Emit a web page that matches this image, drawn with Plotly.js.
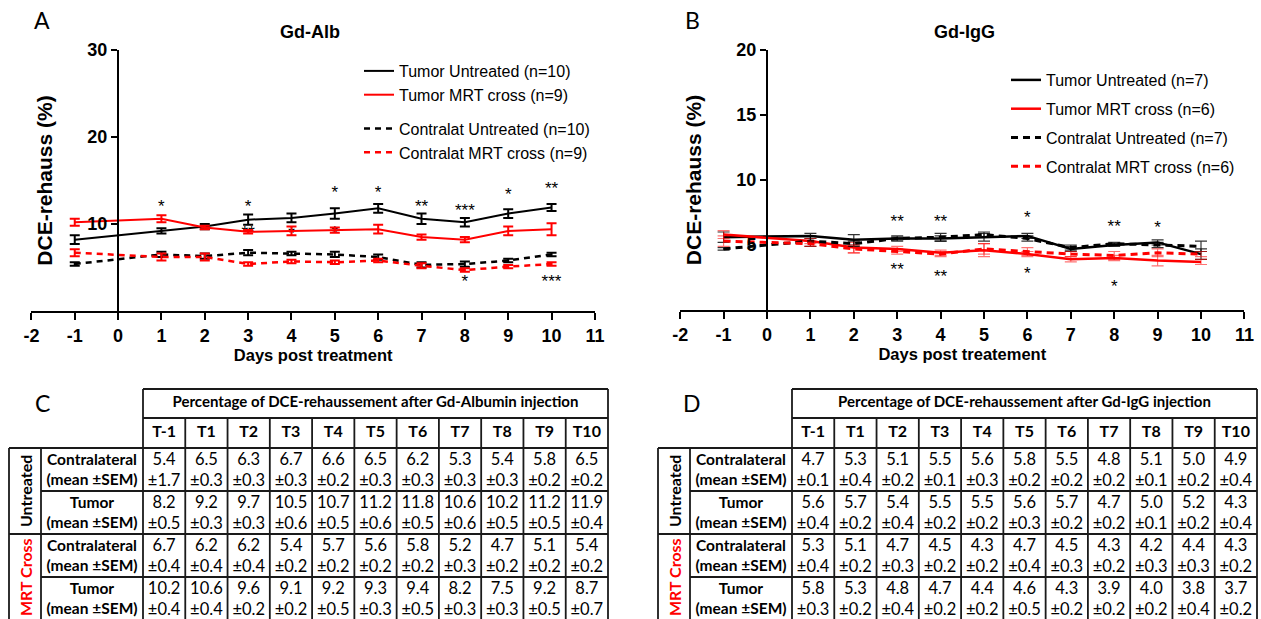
<!DOCTYPE html>
<html><head><meta charset="utf-8">
<script src="https://cdn.plot.ly/plotly-3.0.1.min.js"></script>
<style>html,body{margin:0;padding:0;background:#fff}#chart{width:1261px;height:619px}</style>
</head><body><div id="chart"></div>
<script>
// ---------------- DATA ----------------
const days = [-1, 1, 2, 3, 4, 5, 6, 7, 8, 9, 10];
const timeLabels = ['T-1', 'T1', 'T2', 'T3', 'T4', 'T5', 'T6', 'T7', 'T8', 'T9', 'T10'];
const xTickVals = [-2, -1, 0, 1, 2, 3, 4, 5, 6, 7, 8, 9, 10, 11];
const xTickText = ['-2', '-1', '0', '1', '2', '3', '4', '5', '6', '7', '8', '9', '10', '11'];
const albYTicks = [10, 20, 30];
const iggYTicks = [5, 10, 15, 20];

// Table C (Gd-Albumin), mean and SEM
const albContraUntMean = [5.4, 6.5, 6.3, 6.7, 6.6, 6.5, 6.2, 5.3, 5.4, 5.8, 6.5];
const albContraUntSem  = [1.7, 0.3, 0.3, 0.3, 0.2, 0.3, 0.3, 0.3, 0.3, 0.2, 0.2];
const albTumorUntMean  = [8.2, 9.2, 9.7, 10.5, 10.7, 11.2, 11.8, 10.6, 10.2, 11.2, 11.9];
const albTumorUntSem   = [0.5, 0.3, 0.3, 0.6, 0.5, 0.6, 0.5, 0.6, 0.5, 0.5, 0.4];
const albContraMrtMean = [6.7, 6.2, 6.2, 5.4, 5.7, 5.6, 5.8, 5.2, 4.7, 5.1, 5.4];
const albContraMrtSem  = [0.4, 0.4, 0.4, 0.2, 0.2, 0.2, 0.2, 0.3, 0.2, 0.2, 0.2];
const albTumorMrtMean  = [10.2, 10.6, 9.6, 9.1, 9.2, 9.3, 9.4, 8.2, 7.5, 9.2, 8.7];
const albTumorMrtSem   = [0.4, 0.4, 0.2, 0.2, 0.5, 0.3, 0.5, 0.3, 0.3, 0.5, 0.7];

// Panel A values as drawn where the curve differs from the table
const albTumorMrtPlotted     = [10.2, 10.6, 9.6, 9.1, 9.2, 9.3, 9.4, 8.5, 8.2, 9.2, 9.4];
const albContraUntSemPlotted = [0.2, 0.3, 0.3, 0.3, 0.2, 0.3, 0.3, 0.3, 0.3, 0.2, 0.2];

// Table D (Gd-IgG), mean and SEM
const iggContraUntMean = [4.7, 5.3, 5.1, 5.5, 5.6, 5.8, 5.5, 4.8, 5.1, 5.0, 4.9];
const iggContraUntSem  = [0.1, 0.4, 0.2, 0.1, 0.3, 0.2, 0.2, 0.2, 0.1, 0.2, 0.4];
const iggTumorUntMean  = [5.6, 5.7, 5.4, 5.5, 5.5, 5.6, 5.7, 4.7, 5.0, 5.2, 4.3];
const iggTumorUntSem   = [0.4, 0.2, 0.4, 0.2, 0.2, 0.3, 0.2, 0.2, 0.1, 0.2, 0.4];
const iggContraMrtMean = [5.3, 5.1, 4.7, 4.5, 4.3, 4.7, 4.5, 4.3, 4.2, 4.4, 4.3];
const iggContraMrtSem  = [0.4, 0.2, 0.3, 0.2, 0.2, 0.4, 0.3, 0.2, 0.3, 0.3, 0.2];
const iggTumorMrtMean  = [5.8, 5.3, 4.8, 4.7, 4.4, 4.6, 4.3, 3.9, 4.0, 3.8, 3.7];
const iggTumorMrtSem   = [0.3, 0.2, 0.4, 0.2, 0.2, 0.5, 0.2, 0.2, 0.2, 0.4, 0.2];

// Significance marks (day, label, level)
const albSigTopX = [1, 3, 5, 6, 7, 8, 9, 10];
const albSigTopT = ['*', '*', '*', '*', '**', '***', '*', '**'];
const albSigTopY = [12.4, 12.4, 14.0, 14.1, 12.5, 12.0, 13.8, 14.5];
const albSigMidX = [3, 4, 5];
const albSigMidT = ['**', '*', '*'];
const albSigMidY = [9.4, 9.3, 9.4];
const albSigLowX = [8, 10];
const albSigLowT = ['*', '***'];
const albSigLowY = [3.8, 3.8];
const iggSigTopX = [3, 4, 6, 8, 9];
const iggSigTopT = ['**', '**', '*', '**', '*'];
const iggSigTopY = [7.1, 7.1, 7.4, 6.7, 6.6];
const iggSigLowX = [3, 4, 6, 8];
const iggSigLowT = ['**', '**', '*', '*'];
const iggSigLowY = [3.4, 2.9, 3.1, 2.1];

const rowLabels = ['Contralateral<br>(mean ±SEM)', 'Tumor<br>(mean ±SEM)', 'Contralateral<br>(mean ±SEM)', 'Tumor<br>(mean ±SEM)'];
const groupLabels = ['Untreated', 'MRT Cross'];

// ---------------- LAYOUT HELPERS ----------------
const W = 1261, H = 619;
const FONT = 'Liberation Sans, Arial, sans-serif';
const TFONT = 'Lato, Carlito, sans-serif';
const RED = '#ff0000';
const px = p => p / W;
const py = p => 1 - p / H;
const GLYPH_SHIFT_PX = 5; // asterisk glyph sits above its text anchor

const traces = [];
const shapes = [];
const annotations = [];

function sigTrace(xa, ya, x, y, t, unitPx) {
  traces.push({type: 'scatter', mode: 'text', xaxis: xa, yaxis: ya, x: x,
    y: y.map(v => v - GLYPH_SHIFT_PX / unitPx), text: t,
    textposition: 'middle center', textfont: {family: FONT, size: 17, color: '#000'},
    hoverinfo: 'skip', showlegend: false, cliponaxis: false});
}
const A_UNIT = 261 / 30, B_UNIT = 260 / 20;
sigTrace('x', 'y', albSigTopX, albSigTopY, albSigTopT, A_UNIT);
sigTrace('x', 'y', albSigMidX, albSigMidY, albSigMidT, A_UNIT);
sigTrace('x', 'y', albSigLowX, albSigLowY, albSigLowT, A_UNIT);
sigTrace('x2', 'y2', iggSigTopX, iggSigTopY, iggSigTopT, B_UNIT);
sigTrace('x2', 'y2', iggSigLowX, iggSigLowY, iggSigLowT, B_UNIT);

function series(xa, ya, legend, group, name, y, err, color, dash, lw, errColor, errThick, errW) {
  traces.push({type: 'scatter', mode: 'lines', xaxis: xa, yaxis: ya, legend: legend,
    legendgroup: group, name: name, x: days, y: y,
    line: {color: color, width: lw, dash: dash},
    error_y: {type: 'data', array: err, visible: true, color: errColor, thickness: errThick, width: errW},
    hoverinfo: 'skip', cliponaxis: false});
}
// Panel A
series('x', 'y', 'legend', 'solid', 'Tumor Untreated (n=10)', albTumorUntMean, albTumorUntSem, '#000', 'solid', 2, '#000', 2, 5);
series('x', 'y', 'legend', 'solid', 'Tumor MRT cross (n=9)', albTumorMrtPlotted, albTumorMrtSem, RED, 'solid', 2, RED, 2, 5);
series('x', 'y', 'legend', 'dashed', 'Contralat Untreated (n=10)', albContraUntMean, albContraUntSemPlotted, '#000', '6px,5px', 2.5, '#000', 2, 5);
series('x', 'y', 'legend', 'dashed', 'Contralat MRT cross (n=9)', albContraMrtMean, albContraMrtSem, RED, '6px,5px', 2.5, RED, 2, 5);
// Panel B
series('x2', 'y2', 'legend2', 'b1', 'Tumor Untreated (n=7)', iggTumorUntMean, iggTumorUntSem, '#000', 'solid', 2.5, 'rgba(0,0,0,0.8)', 1.2, 6);
series('x2', 'y2', 'legend2', 'b2', 'Tumor MRT cross (n=6)', iggTumorMrtMean, iggTumorMrtSem, RED, 'solid', 2.5, 'rgba(255,0,0,0.55)', 1.2, 6);
series('x2', 'y2', 'legend2', 'b3', 'Contralat Untreated (n=7)', iggContraUntMean, iggContraUntSem, '#000', '7px,5px', 3, 'rgba(0,0,0,0.8)', 1.2, 6);
series('x2', 'y2', 'legend2', 'b4', 'Contralat MRT cross (n=6)', iggContraMrtMean, iggContraMrtSem, RED, '7px,5px', 3, 'rgba(255,0,0,0.55)', 1.2, 6);

// ---------------- TABLES ----------------
const COLW = 465 / 11, ROWH = 43;
const GL = -0.5 - (102 + 32) / COLW;   // left of group column
const RL = -0.5 - 102 / COLW;          // left of row-label column
const Y_TOP = -0.5 - 59 / ROWH;        // top of title row
const Y_HDR = -0.5 - 30 / ROWH;        // top of T-row
const Y_END = 3.6;

function table(xa, ya, dataLeftPx, title, rows) {
  const xu0 = -3.8, xu1 = 10.55;
  const pxAt = u => dataLeftPx + (u + 0.5) * COLW;
  const yTopU = -1.95, yBotU = (619 - 448) / ROWH - 0.5;
  const xName = 'xaxis' + xa.slice(1), yName = 'yaxis' + ya.slice(1);
  const ax = {};
  ax[xName] = {domain: [px(pxAt(xu0)), px(pxAt(xu1))], range: [xu0, xu1], visible: false, fixedrange: true, anchor: ya};
  ax[yName] = {domain: [0, py(448 + (yTopU + 0.5) * ROWH)], range: [yBotU, yTopU], visible: false, fixedrange: true, anchor: xa};
  const L = (x0, y0, x1, y1) => shapes.push({type: 'line', xref: xa, yref: ya, x0: x0, y0: y0, x1: x1, y1: y1, line: {color: '#1a1a1a', width: 1.8}});
  L(-0.5, Y_TOP, 10.5, Y_TOP);
  L(-0.5, Y_HDR, 10.5, Y_HDR);
  L(GL, -0.5, 10.5, -0.5);
  L(RL, 0.5, 10.5, 0.5);
  L(GL, 1.5, 10.5, 1.5);
  L(RL, 2.5, 10.5, 2.5);
  L(GL, -0.5, GL, Y_END);
  L(RL, -0.5, RL, Y_END);
  L(-0.5, Y_TOP, -0.5, Y_END);
  L(10.5, Y_TOP, 10.5, Y_END);
  for (let k = 1; k < timeLabels.length; k++) L(k - 0.5, Y_HDR, k - 0.5, Y_END);
  const idx = timeLabels.map((_, i) => i);
  const cellShift = 2 / ROWH; // two-line blocks sit slightly low in each row
  traces.push({type: 'scatter', mode: 'text', xaxis: xa, yaxis: ya, x: [5], y: [(Y_TOP + Y_HDR) / 2], text: [title],
    textfont: {family: TFONT, size: 15, color: '#000', weight: 700}, hoverinfo: 'skip', showlegend: false, cliponaxis: false});
  traces.push({type: 'scatter', mode: 'text', xaxis: xa, yaxis: ya, x: idx, y: idx.map(() => (Y_HDR - 0.5) / 2), text: timeLabels,
    textfont: {family: TFONT, size: 16, color: '#000', weight: 700}, hoverinfo: 'skip', showlegend: false, cliponaxis: false});
  traces.push({type: 'scatter', mode: 'text', xaxis: xa, yaxis: ya, x: rowLabels.map(() => (RL - 0.5) / 2), y: rowLabels.map((_, r) => r + cellShift), text: rowLabels,
    textfont: {family: TFONT, size: 15.5, color: '#000', weight: 700}, hoverinfo: 'skip', showlegend: false, cliponaxis: false});
  rows.forEach((row, r) => {
    traces.push({type: 'scatter', mode: 'text', xaxis: xa, yaxis: ya, x: idx, y: idx.map(() => r + cellShift),
      text: row[0].map((m, i) => m.toFixed(1) + '<br>±' + row[1][i].toFixed(1)),
      textfont: {family: TFONT, size: 16.5, color: '#000'}, hoverinfo: 'skip', showlegend: false, cliponaxis: false});
  });
  annotations.push({xref: xa, yref: ya, x: (GL + RL) / 2, y: 0.5, text: groupLabels[0], textangle: -90, showarrow: false,
    xanchor: 'center', yanchor: 'middle', font: {family: TFONT, size: 16, color: '#000', weight: 700}});
  annotations.push({xref: xa, yref: ya, x: (GL + RL) / 2, y: 2.5, text: groupLabels[1], textangle: -90, showarrow: false,
    xanchor: 'center', yanchor: 'middle', font: {family: TFONT, size: 16, color: RED, weight: 700}});
  return ax;
}
const axC = table('x3', 'y3', 143, 'Percentage of DCE-rehaussement after Gd-Albumin injection',
  [[albContraUntMean, albContraUntSem], [albTumorUntMean, albTumorUntSem], [albContraMrtMean, albContraMrtSem], [albTumorMrtMean, albTumorMrtSem]]);
const axD = table('x4', 'y4', 792, 'Percentage of DCE-rehaussement after Gd-IgG injection',
  [[iggContraUntMean, iggContraUntSem], [iggTumorUntMean, iggTumorUntSem], [iggContraMrtMean, iggContraMrtSem], [iggTumorMrtMean, iggTumorMrtSem]]);

// ---------------- CHART AXES ----------------
function xAxis(x0px, x1px, anchor, title) {
  return {domain: [px(x0px), px(x1px)], range: [-2, 11], anchor: anchor, tickvals: xTickVals, ticktext: xTickText,
    ticks: 'outside', ticklen: 7, tickwidth: 2, tickcolor: '#000', showline: true, linewidth: 2, linecolor: '#000',
    showgrid: false, zeroline: false, fixedrange: true,
    tickfont: {family: FONT, size: 18, color: '#000', weight: 700},
    title: {text: title, font: {family: FONT, size: 16.5, color: '#000', weight: 700}, standoff: 3}};
}
function yAxis(bottomPx, topPx, range, ticks, posPx) {
  return {domain: [py(bottomPx), py(topPx)], range: range, anchor: 'free', position: px(posPx),
    tickvals: ticks, ticks: 'outside', ticklen: 6, tickwidth: 2, tickcolor: '#000', showline: true, linewidth: 2, linecolor: '#000',
    showgrid: false, zeroline: false, fixedrange: true,
    tickfont: {family: FONT, size: 18, color: '#000', weight: 700},
    title: {text: 'DCE-rehauss (%)', font: {family: FONT, size: 21, color: '#000', weight: 700}, standoff: 28}};
}

const paperNote = (x, y, text, font) => annotations.push({xref: 'paper', yref: 'paper', x: px(x), y: py(y), text: text,
  showarrow: false, xanchor: 'center', yanchor: 'middle', font: font});
paperNote(42, 20, 'A', {family: TFONT, size: 23, color: '#000'});
paperNote(692, 20, 'B', {family: TFONT, size: 23, color: '#000'});
paperNote(43, 403, 'C', {family: TFONT, size: 23, color: '#000'});
paperNote(692, 403, 'D', {family: TFONT, size: 23, color: '#000'});
paperNote(310, 32, 'Gd-Alb', {family: FONT, size: 18, color: '#000', weight: 700});
paperNote(965, 32, 'Gd-IgG', {family: FONT, size: 18, color: '#000', weight: 700});

const layout = Object.assign({
  width: W, height: H, margin: {l: 0, r: 0, t: 0, b: 0},
  paper_bgcolor: '#fff', plot_bgcolor: 'rgba(0,0,0,0)',
  font: {family: FONT, color: '#000'},
  xaxis: xAxis(31.4, 594.9, 'y', 'Days post treatment'),
  yaxis: yAxis(311, 50, [0, 30], albYTicks, 118),
  xaxis2: xAxis(680.2, 1244.4, 'y2', 'Days post treatement'),
  yaxis2: yAxis(310, 50, [0, 20], iggYTicks, 767),
  legend: {x: px(359), y: py(54), xanchor: 'left', yanchor: 'top', bgcolor: 'rgba(0,0,0,0)',
    font: {family: FONT, size: 16, color: '#000'}, traceorder: 'grouped', tracegroupgap: 10},
  legend2: {x: px(1006), y: py(63), xanchor: 'left', yanchor: 'top', bgcolor: 'rgba(0,0,0,0)',
    font: {family: FONT, size: 16, color: '#000'}, traceorder: 'grouped', tracegroupgap: 5},
  shapes: shapes, annotations: annotations, hovermode: false
}, axC, axD);

Plotly.newPlot('chart', traces, layout, {staticPlot: true, displayModeBar: false});
</script></body></html>
